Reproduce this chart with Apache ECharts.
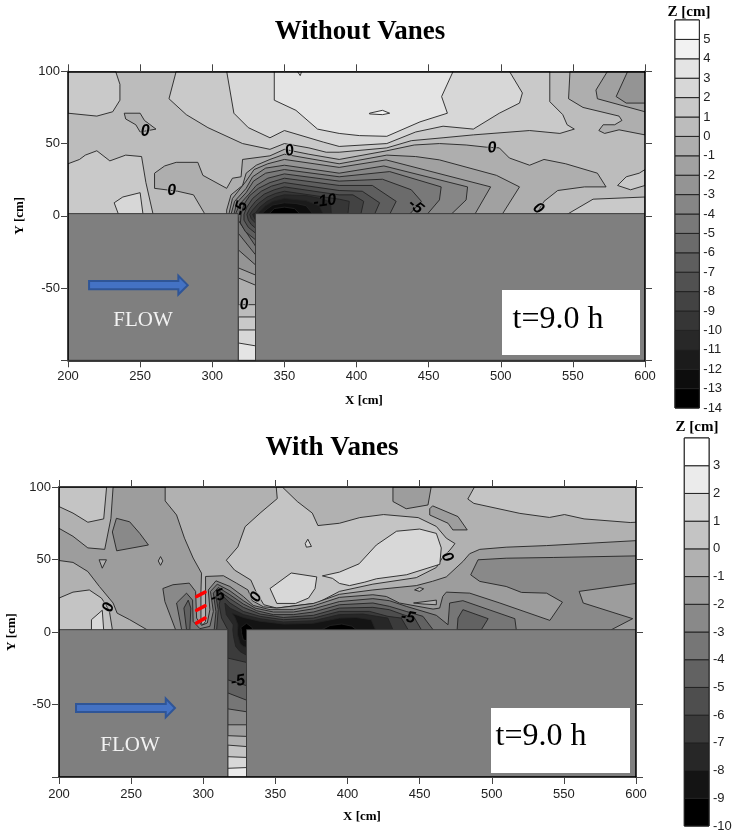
<!DOCTYPE html>
<html><head><meta charset="utf-8">
<style>html,body{margin:0;padding:0;background:#fff}#c{width:734px;height:835px}</style>
<script src="https://cdn.jsdelivr.net/npm/echarts@6/dist/echarts.min.js"></script>
</head><body><div id="c"></div>
<script>
// ---------- values (X cm, Y cm); each entry = [lower bound of Z band, outline]
const xTicks = [200,250,300,350,400,450,500,550,600];
const yTicks = [-50,0,50,100];
const topScale = [6,-14];
const botScale = [4,-10];
const topTitle = 'Without Vanes';
const botTitle = 'With Vanes';

const topBands = [
 [1,[[200,100],[233,100],[236,91],[236,80],[231,72],[220,69],[200,71]]],
 [1,[[200,36],[208,39],[212,42],[220,45],[229,38],[240,42],[251,41],[254,23],[259,1],[200,0]]],
 [2,[[232,9],[238,13],[250,16],[252,1],[235,1]]],
 [1,[[275,100],[270,81],[282,70],[297,61],[321,50],[340,46],[350,50],[367,47],[379,44],[388,44],[421,47],[438,52],[460,54],[481,56],[520,59],[541,57],[551,60],[546,63],[543,70],[534,79],[534,100]]],
 [2,[[310,100],[315,71],[325,61],[340,54],[350,59],[377,51],[388,48],[421,50],[441,58],[460,62],[481,60],[499,71],[513,78],[515,85],[506,100]]],
 [3,[[343,100],[343,80],[358,73],[373,60],[388,57],[402,55.5],[421,55],[444,65],[463,71],[459,82.5],[467,100]]],
 [4,[[409,71],[418,73],[423,71],[418,70],[409,70.5]]],
 [4,[[359,100],[361,97],[362,100]]],
 [-1,[[548,100],[547,81],[557,75],[582,69],[584,66],[579,63],[571,63],[568,59],[572,57],[582,59.5],[600,56],[600,100]]],
 [-2,[[574,100],[566,87],[567,81],[600,72],[600,100]]],
 [-3,[[588,100],[580,82.5],[587,78],[600,78],[600,100]]],
 [1,[[546,1],[564,11.5],[600,13],[600,0]]],
 [1,[[581,21],[587,27],[596,29.5],[600,32],[600,21],[590,18]]],
 [-1,[[239,71],[250,71],[253,66],[261,60],[250,58],[247,63],[240,67]]],
 [-1,[[295,1],[287,14.5],[276,17],[260,19],[260,29.5],[267,34.5],[275,37],[290,37],[293.5,28],[310,19],[314,26],[320,27],[321,39],[340,41.5],[350,46],[367,42.6],[388,39],[421,45],[440,49],[457.5,50],[476,49],[490,47.5],[499,47],[506,40],[520,35],[530,39],[545,36],[567,29.5],[573,20],[558,20],[539.5,17.5],[530,10],[524.5,1],[524.5,-1],[330,-1],[330,-61.5],[318,-61.5],[318,-1],[295,-1]]],
 [-2,[[310,1],[310,4],[313,14.5],[321,21],[323.5,29.5],[330.5,35],[340,39],[350,42.6],[388,36],[421,42],[441,41],[457.5,38.7],[497,28],[513,20],[501,1],[501,-1],[330,-1],[330,-48],[318,-43],[318,-1],[310,-1]]],
 [-3,[[311.5,1],[314,12],[323.5,24],[329,32],[338.5,36],[350,39],[388,33.5],[420.5,38.7],[493,20],[482,1],[482,-1],[330,-1],[330,-41],[318,-36],[318,-1],[311.5,-1]]],
 [-4,[[313,1],[315.5,10],[323.5,19],[328,27],[337,33],[350,35],[388,29.5],[419,34.5],[477,20],[476,11],[465.6,1],[465.6,-1],[330,-1],[330,-34],[318,-23.5],[318,-1],[313,-1]]],
 [-5,[[315,1],[317,9],[323.5,16],[328.6,24],[337,29.5],[350,32],[388,27],[423,30.6],[458.7,20],[457.5,11],[449,1],[449,-1],[330,-1],[330,-27],[318,-12],[318,-1],[315,-1]]],
 [-6,[[316,1],[319,8],[325,14.5],[330.5,21],[338.5,26],[350,29],[388,24],[418,25.3],[438,18],[445,10],[436.7,1],[436.7,-1],[330,-1],[330,-21],[318,-3],[318,-1],[316,-1]]],
 [-7,[[330,-16.6],[323,-11],[319.5,-5],[320,1],[322,8],[326,14],[332,19],[340,23],[350,26],[388,21],[411,21],[427.5,10],[423,1],[423,-1],[330,-1]]],
 [-8,[[330,-12],[325,-8],[322,-3],[322,1],[324,6],[328,12],[334,17],[341,20.5],[350,23],[388,17.5],[404,17],[416,9],[412.5,1],[412.5,-1],[330,-1]]],
 [-9,[[330,-8.5],[327,-6],[325,-3],[324,1],[326,5],[330,10],[336,15],[343,18],[350,20],[388,14.5],[397.5,14.5],[405,10],[403,1],[403,-1],[330,-1]]],
 [-10,[[330,-5],[327,-2],[326,1],[328,4],[332,8.5],[338,13],[344,15.5],[350,17],[388,11.5],[395,10],[394,1],[394,-1],[330,-1]]],
 [-11,[[330,-3],[328,1],[330,2],[333,6],[338,10],[344,13],[350,14.5],[365,14],[375,12],[382,9.5],[382.5,1],[382.5,-1],[330,-1]]],
 [-12,[[331,1],[333,3],[337,7],[342,10],[350,12],[365,10.5],[374,7],[377,1]]],
 [-13,[[334,1],[337,4],[342,7.5],[350,9],[358,8.5],[365,7],[370,1]]],
 [-14,[[339,1],[343,5],[350,6],[357,5],[361,1]]],
 [1,[[318,-70],[330,-70],[330,-100],[318,-100]]],
 [2,[[318,-79],[330,-79],[330,-100],[318,-100]]],
 [3,[[318,-88],[330,-90],[330,-100],[318,-100]]]
];

const botBands = [
 [0,[[200,86.5],[209.7,82],[220,75.7],[231,78],[233,100],[200,100]]],
 [0,[[200,23.4],[209.7,27.5],[221,29],[229.4,23.4],[232.4,19],[235,14],[237,1.6],[200,1]]],
 [1,[[222.5,8.5],[230,15],[231,1],[222.5,1]]],
 [0,[[350.6,100],[351.3,92],[340,82.5],[329,72.6],[324,58.7],[316,49.5],[321.7,42.7],[333,35.8],[336.6,27.7],[342,18.8],[351,16.5],[379,20],[394.4,28],[417.6,33],[447.7,37.5],[461.6,44.5],[466,51.6],[471,56.5],[474.5,61],[468.5,64.7],[461.6,72.8],[449,78.9],[425,81],[408.5,78.9],[394.4,75],[379.5,73.4],[375.6,82],[365.2,90],[354.8,100]]],
 [0,[[488,100],[483.4,91.7],[487.6,88.7],[519.5,81.8],[540,79],[550.4,81],[564,78],[596,75.5],[600,75.7],[600,100]]],
 [1,[[382.6,38.7],[394.4,41.3],[408,47],[420,60],[434,69.5],[450,71],[461.6,68],[465,58],[464,46.7],[441,39.5],[420,36.7],[412,34.4],[401.4,32],[394.4,33.5],[389.6,37],[382.6,38.7]]],
 [1,[[346.3,30],[361,40.7],[378.7,38],[377.5,30],[373,23.4],[364,19.7],[351,19.7]]],
 [1,[[370.7,61],[372.5,64],[375,59],[371.5,58.5]]],
 [-2,[[237.5,100],[236,78.4],[231.7,57],[220,58],[209.7,66],[200,71.5],[200,49.3],[209.7,48],[220,41.7],[228,31.4],[237.5,20],[240.3,13],[249,8.5],[262,1],[262,-1],[317,-1],[317,-71.5],[330,-72],[330,-1],[600,-1],[600,63],[538,59.6],[510,58.5],[491.7,57],[484.7,54],[480,48.6],[468.5,38],[459,35],[447.7,32],[417.6,29],[394.4,26],[376.4,19.7],[351,16.5],[341.7,17.4],[334,21.6],[331,29],[323,33.7],[314,38.8],[301.6,38.3],[301.6,28],[301.6,7.3],[299.5,4.6],[298.4,7.3],[298.4,28],[298.8,40.6],[293,51],[287,64.7],[281.5,80.7],[273.6,90.4],[273.6,100]]],
 [-2,[[431.5,100],[431.5,90],[440.7,85],[455.8,87.6],[458,100]]],
 [-2,[[457,85],[459,87],[476.6,79.6],[483,70.4],[473,70.4],[469.7,75],[457,80.7]]],
 [-1,[[227.8,49.8],[232.9,49.8],[230,44]]],
 [-1,[[268.8,49],[270.4,52],[272,49],[270.4,46]]],
 [-1,[[446.5,29],[450,30.7],[452.8,29.8],[450,28]]],
 [-1,[[445.8,20],[461.6,22],[461.6,18.8],[452.3,19.3]]],
 [-3,[[239.8,78.4],[249,76],[256,68],[262,60],[240,56],[237,69]]],
 [-3,[[280.8,1.6],[273.4,21],[272,30],[279,32.6],[290.3,33.7],[294.7,28],[295.4,9.6],[298.8,4.6],[302.8,6.2],[304.6,15.4],[303.5,29],[308.8,35.3],[318.5,31.4],[327.8,24.5],[334.7,18.3],[346.3,15.4],[362.5,15.4],[376.4,18],[394.4,23.9],[417.6,25.7],[426.9,24.5],[436,20],[459.3,15.8],[463.9,16.5],[466,24.5],[468.5,27.5],[484.7,26.8],[505.6,20],[540.3,8],[549,20.6],[538,26.8],[520.6,27.3],[510,31.4],[491.7,34.9],[485.4,39.4],[490.5,49.8],[510,50.9],[542.6,51.4],[600,52.5],[600,33.5],[560.6,28],[563.4,20],[597.7,9.2],[583,1.6],[583,-1],[330,-1],[330,-64],[317,-64],[317,-1],[280.8,-1]]],
 [-4,[[285,1.6],[281.5,20],[288.4,26.8],[292.6,22],[293,7.3],[297.7,2.3],[304.6,3.9],[307,14.2],[305,28],[309.7,33],[318.5,28.4],[327.8,21.6],[335.9,16.5],[348.6,13.8],[362.5,13.8],[376.4,16],[394.4,21],[417.6,23],[429,21.6],[440.7,17.7],[461.6,11.5],[469.7,5],[470.8,20],[480,21.6],[516,9.2],[517,1.6],[517,-1],[330,-1],[330,-55],[317,-53],[317,-1],[285,-1]]],
 [-5,[[288.4,1.6],[286.6,16.5],[289.6,22],[291.4,16.5],[290.7,1.6]]],
 [-5,[[307.6,1.6],[308.8,14],[307,26.8],[310.4,30.7],[318.5,25.7],[327.8,19.3],[337,14.7],[348.6,12],[362.5,12],[376.4,13.8],[394.4,18.8],[417.6,20],[429,17.7],[440.7,14.2],[452.3,10.8],[459.3,1.6],[459.3,-1],[330,-1],[330,-47],[317,-42],[317,-1],[307.6,-1]]],
 [-5,[[476,1.6],[476.6,9.6],[480,15.4],[497.5,9.2],[492.8,1.6]]],
 [-6,[[309.3,1.6],[310.4,15.4],[308.8,24.5],[311,28.4],[318.5,23],[327.8,17],[339.4,12.4],[355.6,10],[376.4,11.5],[394.4,16.5],[417.6,17],[429,15.4],[438.4,12],[446.5,9.6],[451.2,1.6],[451.2,-1],[330,-1],[330,-37],[317,-33],[317,-1],[309.3,-1]]],
 [-7,[[317,1.6],[312.7,9.6],[311,18.8],[312.7,25.7],[318.5,20],[327.8,14.2],[339.4,10.8],[355.6,8.5],[376.4,9.6],[394.4,14.2],[415.3,14.2],[428,10.8],[437.3,9.6],[442,1.6],[442,-1],[330,-1],[330,-21],[317,-18]]],
 [-8,[[320.5,1.6],[320.8,5],[316,12],[315,20],[318.5,16.5],[327.8,12],[339.4,9.2],[355.6,6.9],[376.4,7.8],[394.4,12],[410.6,12.4],[428,9.6],[431.5,1.6],[431.5,-1],[330,-1],[330,-16],[325.5,-13.5],[322.5,-10],[321,-3]]],
 [-9,[[323.8,1.6],[324,5],[322,10],[320,13],[328,10],[339,7.5],[356,5.5],[376,6],[394.4,9.6],[406,10],[416.4,8.5],[419.4,1.6],[419.4,-1],[330,-1],[330,-10.6],[327.8,-10],[325.5,-8],[323.8,-2]]],
 [-10,[[326.6,1],[326.6,-1],[327.8,-5.5],[330,-6],[330,1],[334,1.6],[334,3],[330,6],[326,3]]],
 [-10,[[381,1],[388,4.5],[396,5.5],[403,4],[407,1]]],
 [0,[[317,-78],[330,-79],[330,-100],[317,-100]]],
 [1,[[317,-86],[330,-86.5],[330,-100],[317,-100]]],
 [2,[[317,-94],[330,-93.5],[330,-100],[317,-100]]]
];

const topLabels = [[253.6,58.3,'0',0],[272,17.5,'0',-5],[353.6,45,'0',-15],[320,5,'-5',-75],[378,10,'-10',-8],[441,6.5,'-5',40],[494,47,'0',-5],[526,5,'0',40],[322,-61.5,'0',-5]];
const botLabels = [[234.5,17,'0',-75],[336.6,24,'0',-65],[469,51.6,'0',60],[310,24.5,'-5',-20],[442,10,'-5',10],[324,-34,'-5',-10]];
const vanes = [[[295.4,24.5],[301.2,27.5]],[[295.4,15],[301.2,18]],[[295.4,6.2],[301.2,9.6]]];
const topArrow = [[214.6,-45.2],[276.5,-45.2],[276.5,-41.5],[283,-48],[276.5,-54.5],[276.5,-50.8],[214.6,-50.8]];
const botArrow = [[211.8,-49.6],[274,-49.6],[274,-45.9],[280.4,-52.4],[274,-58.9],[274,-55.2],[211.8,-55.2]];

const serif = '"Liberation Serif","Times New Roman",serif';
const sans = '"Liberation Sans",Arial,sans-serif';
const grey = (hi,lo,b)=>{const n=hi-lo,i=hi-1-b,v=Math.round(255*(1-i/(n-1)));return `rgb(${v},${v},${v})`;};

function fieldSeries(idx, scale, base, bands, labels, extras, chanLeft){
  const [hi,lo]=scale;
  const fy = idx===0?1.5:1.6;
  const items=[];
  items.push({k:'f',c:grey(hi,lo,base),p:[[200,-100],[600,-100],[600,100],[200,100]],nostroke:true});
  bands.forEach(b=>items.push({k:'f',c:grey(hi,lo,b[0]),p:b[1]}));
  items.push({k:'w',p:[[200,-100],[chanLeft,-100],[chanLeft,fy],[200,fy]]});
  items.push({k:'w',p:[[330,-100],[600,-100],[600,fy],[330,fy]]});
  extras.forEach(e=>items.push(e));
  labels.forEach(l=>items.push({k:'t',at:[l[0],l[1]],s:l[2],r:l[3]}));
  return {type:'custom',xAxisIndex:idx,yAxisIndex:idx,silent:true,animation:false,clip:true,z:3,
    data:items.map((_,i)=>[i]),
    renderItem:(params,api)=>{
      const it=items[params.dataIndex];
      if(it.k==='t'){const c=api.coord(it.at);const halo=it.s==='0';return {type:'text',x:c[0],y:c[1],rotation:-it.r*Math.PI/180,originX:0,originY:0,
        style:{text:it.s,fill:'#000',font:'italic bold 16px '+sans,align:'center',verticalAlign:'middle',stroke:halo?'rgba(180,180,180,0.8)':null,lineWidth:halo?1.5:0}};}
      const pts=it.p.map(q=>api.coord(q));
      if(it.k==='l')return {type:'polyline',shape:{points:pts},style:{stroke:'#f00',lineWidth:3.6,fill:null,lineCap:'round'}};
      if(it.k==='a')return {type:'polygon',shape:{points:pts},style:{fill:'#4472c4',stroke:'#2f5597',lineWidth:2}};
      if(it.k==='w')return {type:'polygon',shape:{points:pts},style:{fill:'#7f7f7f',stroke:'#3a3a3a',lineWidth:1}};
      return {type:'polygon',shape:{points:pts},style:{fill:it.c,stroke:it.nostroke?null:'#222',lineWidth:0.9}};
    }};
}
function legendSeries(idx,scale){
  const [hi,lo]=scale;const bands=[];for(let b=lo;b<hi;b++)bands.push(b);
  return {type:'custom',xAxisIndex:idx,yAxisIndex:idx,silent:true,animation:false,z:3,data:bands.map(b=>[b]),
    renderItem:(p,api)=>{const b=bands[p.dataIndex];const a=api.coord([0,b+1]),c=api.coord([1,b]);
      return {type:'rect',shape:{x:a[0],y:a[1],width:c[0]-a[0],height:c[1]-a[1]},style:{fill:grey(hi,lo,b),stroke:'#222',lineWidth:1}};}};
}
const frame={show:true,lineStyle:{color:'#000',width:1.5}};
const tick={show:true,length:7,lineStyle:{color:'#444',width:1}};
const xLab=m=>({color:'#222',fontFamily:sans,fontSize:13,margin:m});
const yLab={color:'#222',fontFamily:sans,fontSize:13,margin:8,formatter:v=>yTicks.includes(v)?String(v):''};
const nameStyle={fontFamily:serif,fontWeight:'bold',fontSize:13,color:'#000'};
function mainAxes(i,yName,m,gap){
  return {
    x:[{gridIndex:i,z:10,type:'value',min:200,max:600,interval:50,position:'bottom',axisLine:{...frame,onZero:false},axisTick:tick,axisLabel:xLab(m),splitLine:{show:false}},
       {gridIndex:i,z:10,type:'value',min:200,max:600,interval:50,position:'top',axisLine:{...frame,onZero:false},axisTick:tick,axisLabel:{show:false},splitLine:{show:false}}],
    y:[{gridIndex:i,z:10,type:'value',min:-100,max:100,interval:50,position:'left',axisLine:{...frame,onZero:false},axisTick:tick,axisLabel:yLab,splitLine:{show:false},name:yName,nameLocation:'middle',nameGap:gap,nameTextStyle:nameStyle},
       {gridIndex:i,z:10,type:'value',min:-100,max:100,interval:50,position:'right',axisLine:{...frame,onZero:false},axisTick:tick,axisLabel:{show:false},splitLine:{show:false}}]
  };
}
const a0=mainAxes(0,'Y [cm]',9.5,42), a1=mainAxes(1,'Y [cm]',10.5,37);
function legAxes(g,scale){
  const [hi,lo]=scale;
  return {x:{gridIndex:g,type:'value',min:0,max:1,show:false},
   y:{gridIndex:g,type:'value',min:lo,max:hi,interval:1,position:'right',axisLine:{show:false},axisTick:{show:false},splitLine:{show:false},
      axisLabel:{color:'#222',fontFamily:sans,fontSize:13,margin:4,formatter:v=>v===hi?'':String(v)}}};
}
const l0=legAxes(2,topScale), l1=legAxes(3,botScale);
// axis order: 0 = top main, 1 = bottom main, 2/3 = their mirror axes, 4/5 = legends
const xAxis=[a0.x[0],a1.x[0],a0.x[1],a1.x[1],l0.x,l1.x];
const yAxis=[a0.y[0],a1.y[0],a0.y[1],a1.y[1],l0.y,l1.y];
xAxis[2].gridIndex=0;xAxis[3].gridIndex=1;yAxis[2].gridIndex=0;yAxis[3].gridIndex=1;
function mirror(xi){return {type:'custom',xAxisIndex:xi,yAxisIndex:xi,data:[],renderItem:()=>null};}
const text=(s,x,y,font,fill)=>({type:'text',z:100,x,y,style:{text:s,font,fill,align:'center',verticalAlign:'middle'}});
const box=(x,y,w,h)=>({type:'rect',z:99,shape:{x,y,width:w,height:h},style:{fill:'#fff'}});
const bold=s=>'bold '+s+'px '+serif;
const gridBase={outerBoundsMode:'none',containLabel:false};

const option={
  animation:false,backgroundColor:'#fff',
  grid:[{...gridBase,left:68,top:71.3,width:577,height:289},{...gridBase,left:59,top:487,width:577,height:290},
        {...gridBase,left:675,top:20,width:24.3,height:388,show:true,borderColor:'#000',borderWidth:1},{...gridBase,left:684.3,top:438,width:24.7,height:388,show:true,borderColor:'#000',borderWidth:1}],
  xAxis,yAxis,
  series:[
    fieldSeries(0,topScale,0,topBands,topLabels,[{k:'a',p:topArrow}],318),
    fieldSeries(1,botScale,-1,botBands,botLabels,vanes.map(v=>({k:'l',p:v})).concat([{k:'a',p:botArrow}]),317),
    mirror(2),mirror(3),legendSeries(4,topScale),legendSeries(5,botScale)
  ],
  graphic:[box(502,290,138,65),box(491,708,139,65),
    text(topTitle,360,32,bold(27),'#000'),text(botTitle,332,448,bold(27),'#000'),
    text('Z [cm]',689,12,bold(15),'#000'),text('Z [cm]',697,427,bold(15),'#000'),
    text('X [cm]',364,401,bold(13),'#000'),text('X [cm]',362,817,bold(13),'#000'),
    text('t=9.0 h',558,320,'32px '+serif,'#000'),text('t=9.0 h',541,737,'32px '+serif,'#000'),
    text('FLOW',143,320,'21px '+serif,'#f2f2f2'),text('FLOW',130,745,'21px '+serif,'#f2f2f2')]
};
echarts.init(document.getElementById('c'),null,{renderer:'canvas'}).setOption(option);
</script></body></html>
